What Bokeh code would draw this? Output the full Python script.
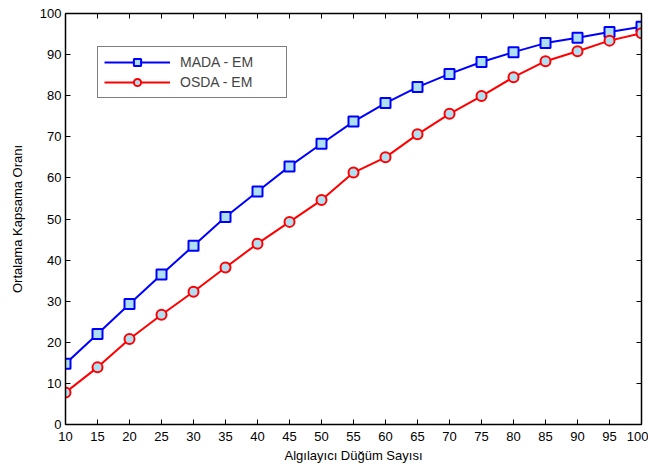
from bokeh.plotting import figure
from bokeh.models import LinearAxis, FixedTicker, Range1d, Legend, LegendItem, CustomJSTickFormatter
from bokeh.embed import file_html
from bokeh.resources import INLINE

x_nodes = [10, 15, 20, 25, 30, 35, 40, 45, 50, 55, 60, 65, 70, 75, 80, 85, 90, 95, 100]
mada_em = [14.8, 22.0, 29.3, 36.5, 43.5, 50.5, 56.7, 62.8, 68.3, 73.7, 78.2, 82.1,
           85.3, 88.2, 90.6, 92.8, 94.1, 95.5, 96.8]
osda_em = [7.8, 13.9, 20.8, 26.7, 32.3, 38.2, 44.0, 49.3, 54.6, 61.3, 65.0, 70.6,
           75.6, 79.9, 84.5, 88.4, 90.8, 93.4, 95.2]
x_ticks = list(range(10, 101, 5))
y_ticks = list(range(0, 101, 10))

FONT = "Liberation Sans"
FILL = "#aee0f2"

p = figure(width=648, height=466, output_backend="svg", toolbar_location=None,
           x_range=Range1d(10, 100), y_range=Range1d(0, 100),
           min_border_left=65, min_border_right=7, min_border_top=13, min_border_bottom=42)
p.background_fill_color = "white"
p.border_fill_color = "white"
p.outline_line_color = "black"
p.outline_line_width = 1
p.xgrid.visible = False
p.ygrid.visible = False

r1l = p.line(x_nodes, mada_em, line_color="#0000ff", line_width=2)
r1m = p.scatter(x_nodes, mada_em, marker="square", size=10, line_color="#0000ff",
                line_width=2, fill_color=FILL)
r2l = p.line(x_nodes, osda_em, line_color="#ff0000", line_width=2)
r2m = p.scatter(x_nodes, osda_em, marker="circle", size=10, line_color="#ff0000",
                line_width=2, fill_color=FILL)

def style(ax, ticks, labels=True):
    ax.ticker = FixedTicker(ticks=ticks)
    ax.major_tick_in = 5
    ax.major_tick_out = 0
    ax.minor_tick_line_color = None
    ax.axis_line_color = "black"
    ax.axis_line_width = 1.5
    ax.major_tick_line_color = "black"
    ax.major_label_text_font = FONT
    ax.major_label_text_font_size = "13px"
    ax.major_label_text_color = "black"
    ax.major_label_standoff = 4
    if not labels:
        ax.formatter = CustomJSTickFormatter(code="return ''")
        ax.major_label_standoff = 0
    ax.axis_label_text_font = FONT
    ax.axis_label_text_font_size = "13px"
    ax.axis_label_text_font_style = "normal"
    ax.axis_label_text_color = "black"

style(p.xaxis[0], x_ticks)
style(p.yaxis[0], y_ticks)
p.xaxis[0].axis_label = "Algılayıcı Düğüm Sayısı"
p.xaxis[0].axis_label_standoff = 4
p.xaxis[0].major_label_standoff = 7
p.yaxis[0].axis_label = "Ortalama Kapsama Oranı"
p.yaxis[0].axis_label_standoff = 12

top = LinearAxis()
style(top, x_ticks, labels=False)
p.add_layout(top, "above")
right = LinearAxis()
style(right, y_ticks, labels=False)
p.add_layout(right, "right")

legend = Legend(items=[
    LegendItem(label="MADA - EM", renderers=[r1l, r1m]),
    LegendItem(label="OSDA - EM", renderers=[r2l, r2m]),
], location=(32, 326))
legend.border_line_color = "black"
legend.border_line_width = 1
legend.background_fill_color = "white"
legend.background_fill_alpha = 1
legend.label_text_font = FONT
legend.label_text_font_size = "14px"
legend.glyph_width = 66
legend.glyph_height = 18
legend.label_height = 18
legend.label_standoff = 10
legend.spacing = 2
legend.padding = 6
legend.margin = 0
legend.label_width = 100
p.add_layout(legend, "center")

open("out.html", "w").write(file_html(p, INLINE))
